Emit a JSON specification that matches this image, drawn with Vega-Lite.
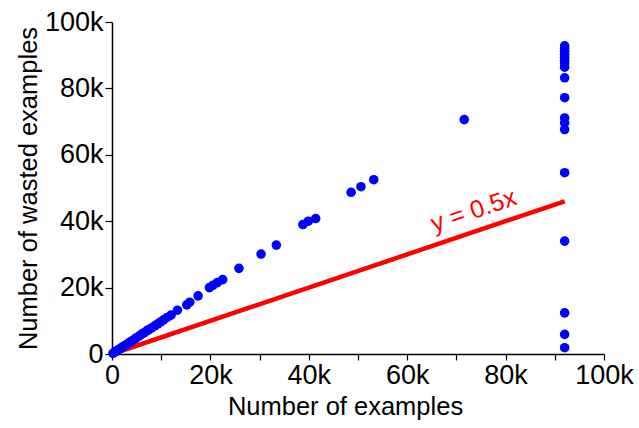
{
  "$schema": "https://vega.github.io/schema/vega-lite/v6.json",
  "width": 492,
  "height": 332,
  "autosize": {"type": "none"},
  "padding": {"left": 112, "top": 22, "right": 35, "bottom": 74},
  "background": "white",
  "config": {
    "view": {"stroke": null},
    "font": "Liberation Sans",
    "axis": {
      "grid": false,
      "domainColor": "black",
      "domainWidth": 1.5,
      "tickColor": "black",
      "tickWidth": 1.2,
      "tickSize": 7,
      "labelColor": "black",
      "labelFont": "Liberation Sans",
      "labelFontSize": 27,
      "labelFlush": false,
      "labelOverlap": false,
      "titleFont": "Liberation Sans",
      "titleFontSize": 25.5,
      "titleFontWeight": "normal",
      "titleColor": "black",
      "labelPadding": 2
    }
  },
  "datasets": {
    "pts": [
      {"x": 200, "y": 200}, {"x": 500, "y": 500}, {"x": 800, "y": 800}, {"x": 1100, "y": 1100},
      {"x": 1400, "y": 1400}, {"x": 1800, "y": 1700}, {"x": 2100, "y": 2100}, {"x": 2500, "y": 2400},
      {"x": 2900, "y": 2800}, {"x": 3300, "y": 3200}, {"x": 3700, "y": 3600}, {"x": 4100, "y": 4000},
      {"x": 4600, "y": 4500}, {"x": 5000, "y": 4900}, {"x": 5500, "y": 5400}, {"x": 6000, "y": 5900},
      {"x": 6500, "y": 6400}, {"x": 7000, "y": 6900}, {"x": 7400, "y": 7300}, {"x": 8000, "y": 7800},
      {"x": 8700, "y": 8500}, {"x": 9300, "y": 9100}, {"x": 9900, "y": 9700}, {"x": 10500, "y": 10300},
      {"x": 11200, "y": 11000}, {"x": 12000, "y": 11700}, {"x": 13300, "y": 13200}, {"x": 15200, "y": 14800},
      {"x": 15800, "y": 15600}, {"x": 17500, "y": 17500}, {"x": 19800, "y": 20000}, {"x": 20500, "y": 20700},
      {"x": 21400, "y": 21500}, {"x": 22500, "y": 22400}, {"x": 25800, "y": 25800}, {"x": 30300, "y": 30100},
      {"x": 33400, "y": 32800}, {"x": 38800, "y": 39000}, {"x": 39900, "y": 40000}, {"x": 41400, "y": 40800},
      {"x": 48600, "y": 48700}, {"x": 50600, "y": 50400}, {"x": 53200, "y": 52500}, {"x": 71600, "y": 70600},
      {"x": 92000, "y": 92800}, {"x": 92000, "y": 92000}, {"x": 92000, "y": 91200}, {"x": 92000, "y": 90300},
      {"x": 92000, "y": 89400}, {"x": 92000, "y": 88500}, {"x": 92000, "y": 87500}, {"x": 92000, "y": 86400},
      {"x": 92000, "y": 83200}, {"x": 92000, "y": 77200}, {"x": 92000, "y": 71100}, {"x": 92000, "y": 69600},
      {"x": 92000, "y": 67600}, {"x": 92000, "y": 54600}, {"x": 92000, "y": 34000}, {"x": 92000, "y": 12400},
      {"x": 92000, "y": 5900}, {"x": 92000, "y": 1900}
    ],
    "line": [{"x": 0, "y": 0}, {"x": 92000, "y": 46000}],
    "label": [{"x": 73500, "y": 43200, "text": "y = 0.5x"}]
  },
  "layer": [
    {
      "data": {"name": "line"},
      "mark": {"type": "line", "color": "#ff0000", "strokeWidth": 4.5},
      "encoding": {
        "x": {
          "field": "x", "type": "quantitative",
          "scale": {"domain": [0, 100000], "nice": false},
          "axis": {
            "title": "Number of examples",
            "values": [0, 10000, 20000, 30000, 40000, 50000, 60000, 70000, 80000, 90000, 100000],
            "labelExpr": "datum.value % 20000 == 0 ? (datum.value == 0 ? '0' : datum.value / 1000 + 'k') : ''",
            "tickSize": 6,
            "titlePadding": 6,
            "titleX": 233
          }
        },
        "y": {
          "field": "y", "type": "quantitative",
          "scale": {"domain": [0, 100000], "nice": false},
          "axis": {
            "title": "Number of wasted examples",
            "values": [0, 10000, 20000, 30000, 40000, 50000, 60000, 70000, 80000, 90000, 100000],
            "labelExpr": "datum.value % 20000 == 0 ? (datum.value == 0 ? '0' : datum.value / 1000 + 'k') : ''",
            "titlePadding": 3
          }
        }
      }
    },
    {
      "data": {"name": "pts"},
      "mark": {"type": "circle", "color": "#0000ff", "opacity": 1, "size": 92},
      "encoding": {
        "x": {"field": "x", "type": "quantitative"},
        "y": {"field": "y", "type": "quantitative"}
      }
    },
    {
      "data": {"name": "label"},
      "mark": {"type": "text", "color": "#ff0000", "fontSize": 25, "angle": -18.6, "align": "center", "baseline": "middle", "font": "Liberation Sans"},
      "encoding": {
        "x": {"field": "x", "type": "quantitative"},
        "y": {"field": "y", "type": "quantitative"},
        "text": {"field": "text"}
      }
    }
  ]
}
